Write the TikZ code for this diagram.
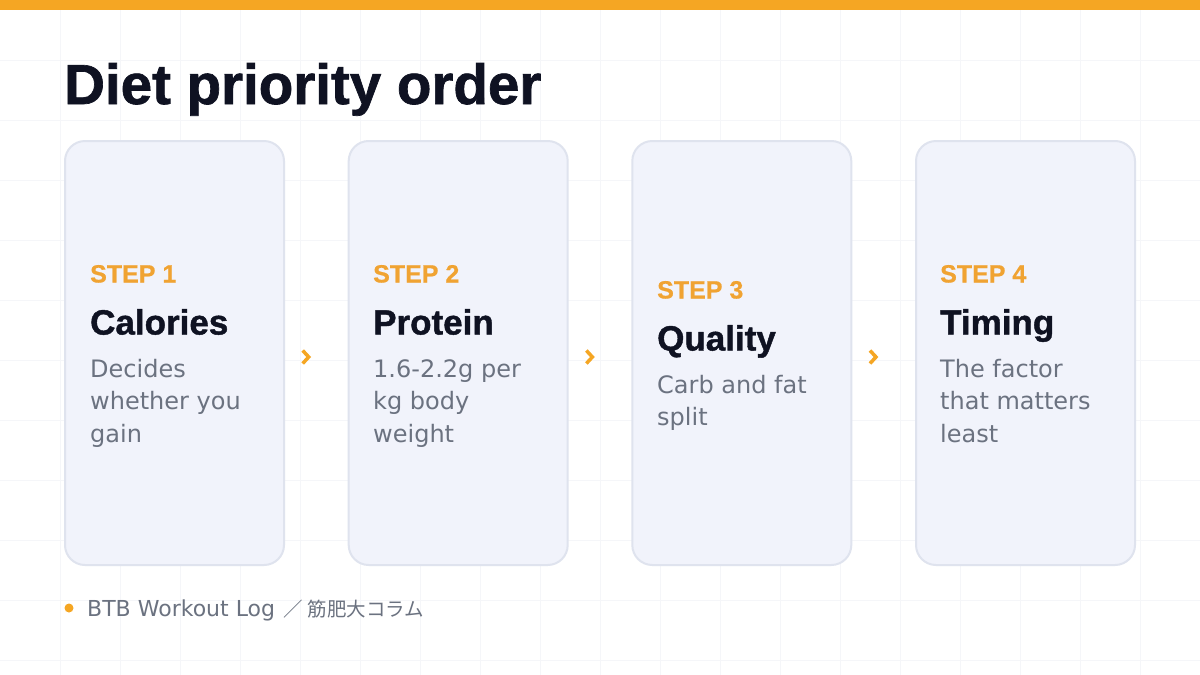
\documentclass[tikz,border=0pt]{standalone}
\usepackage{fontspec}
\setmainfont{Liberation Sans}
\newfontfamily\bodyfont{DejaVu Sans}
\newfontfamily\heavyfont[FakeBold=1.2]{Liberation Sans Bold}
\newfontfamily\semiheavyfont[FakeBold=0.6]{Liberation Sans Bold}
\newfontfamily\cjkfont{Noto Sans CJK JP}
\definecolor{accent}{HTML}{F5A623}
\definecolor{steporange}{HTML}{F0A332}
\definecolor{navy}{HTML}{0F1222}
\definecolor{graytext}{HTML}{6B7280}
\definecolor{cardfill}{HTML}{F1F3FB}
\definecolor{cardline}{HTML}{DFE3EE}
\definecolor{gridline}{HTML}{F5F6F9}
\tikzset{
  card/.style={draw=cardline, line width=2pt, fill=cardfill, rounded corners=20pt,
    minimum width=219pt, minimum height=424pt, inner sep=0pt},
  steplabel/.style={anchor=base west, inner sep=0pt, text=steporange,
    font=\fontsize{25}{30}\selectfont\semiheavyfont},
  cardtitle/.style={anchor=base west, inner sep=0pt, text=navy,
    font=\fontsize{35}{40}\selectfont\heavyfont},
  desc/.style={anchor=base west, inner sep=0pt, text=graytext,
    font=\fontsize{24}{28}\selectfont\bodyfont},
  chev/.style={draw=accent, line width=3.5pt, line join=miter},
}
\begin{document}
\begin{tikzpicture}[x=1pt,y=-1pt]
\useasboundingbox (0,0) rectangle (1200,675);
\fill[white] (0,0) rectangle (1200,675);
% grid
\foreach \gx in {60,120,...,1140} \draw[gridline, line width=1pt] (\gx,0) -- (\gx,675);
\foreach \gy in {60,120,...,660} \draw[gridline, line width=1pt] (0,\gy) -- (1200,\gy);
% top bar
\fill[accent] (0,0) rectangle (1200,10);
% title
\node[anchor=base west, inner sep=0pt, text=navy, font=\fontsize{56.5}{60}\selectfont\heavyfont] (title) at (64,104) {Diet priority order};
% cards
\node[card] (c1) at (174.5,353) {};
\node[card] (c2) at (458.2,353) {};
\node[card] (c3) at (741.8,353) {};
\node[card] (c4) at (1025.5,353) {};
% card 1
\node[steplabel] (s1) at (90,282.5) {STEP 1};
\node[cardtitle] (t1) at (90,334.5) {Calories};
\node[desc] (d1a) at (90,377) {Decides};
\node[desc] (d1b) at (90,409.5) {whether you};
\node[desc] (d1c) at (90,442) {gain};
% card 2
\node[steplabel] (s2) at (373,282.5) {STEP 2};
\node[cardtitle] (t2) at (373,334.5) {Protein};
\node[desc] (d2a) at (373,377) {1.6-2.2g per};
\node[desc] (d2b) at (373,409.5) {kg body};
\node[desc] (d2c) at (373,442) {weight};
% card 3
\node[steplabel] (s3) at (657,298.5) {STEP 3};
\node[cardtitle] (t3) at (657,350.5) {Quality};
\node[desc] (d3a) at (657,393) {Carb and fat};
\node[desc] (d3b) at (657,425.5) {split};
% card 4
\node[steplabel] (s4) at (940,282.5) {STEP 4};
\node[cardtitle] (t4) at (940,334.5) {Timing};
\node[desc] (d4a) at (940,377) {The factor};
\node[desc] (d4b) at (940,409.5) {that matters};
\node[desc] (d4c) at (940,442) {least};
% chevrons between cards
\foreach \a/\b/\n in {c1/c2/1,c2/c3/2,c3/c4/3}{
  \path ([yshift=-4pt]\a.east) -- ([yshift=-4pt]\b.west) coordinate[pos=0.33] (ch\n);
  \draw[chev] ([shift={(-3,-6.5)}]ch\n) -- ([shift={(3,0)}]ch\n) -- ([shift={(-3,6.5)}]ch\n);
}
% footer
\fill[accent] (69,608) circle (4.5) coordinate (dot);
\node[anchor=base west, inner sep=0pt, text=graytext] (footer) at (87,616)
  {{\fontsize{22}{24}\selectfont\bodyfont BTB Workout Log }{\fontsize{19.5}{24}\selectfont\cjkfont \hspace{1pt}／\hspace{5pt}筋肥大コラム}};
\end{tikzpicture}
\end{document}
